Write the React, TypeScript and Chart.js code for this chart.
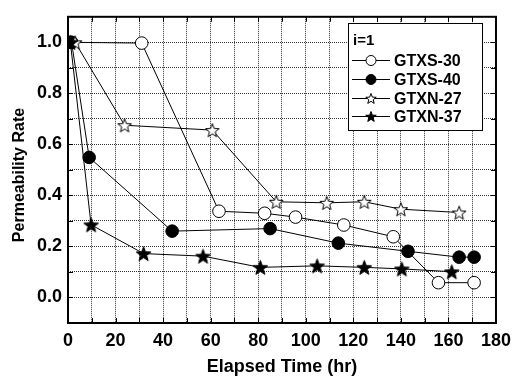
import React, { useEffect, useRef } from "react";
import { Chart, registerables } from "chart.js";

Chart.register(...registerables);

const seriesNames = ["GTXS-30", "GTXS-40", "GTXN-27", "GTXN-37"];
const legendTitle = "i=1";

const gtxs30X = [1, 31, 63.5, 82.7, 95.7, 116, 136.8, 155.8, 170.8];
const gtxs30Y = [1.0, 0.997, 0.338, 0.33, 0.315, 0.284, 0.238, 0.058, 0.058];

const gtxs40X = [1.5, 8.9, 43.8, 85, 113.7, 143, 164.5, 170.8];
const gtxs40Y = [1.0, 0.549, 0.26, 0.27, 0.213, 0.181, 0.158, 0.158];

const gtxn27X = [3, 23.8, 60.7, 87.6, 108.8, 124.6, 140, 164.5];
const gtxn27Y = [1.0, 0.675, 0.656, 0.375, 0.371, 0.375, 0.346, 0.333];

const gtxn37X = [1, 9.7, 31.8, 56.8, 80.9, 104.8, 124.6, 140.4, 161.4];
const gtxn37Y = [1.0, 0.285, 0.172, 0.162, 0.118, 0.124, 0.118, 0.112, 0.101];

const xTitle = "Elapsed Time (hr)";
const yTitle = "Permeability Rate";

const FONT = '"Liberation Sans", Arial, sans-serif';

function starPath(ctx: CanvasRenderingContext2D, cx: number, cy: number, R: number, r: number) {
  ctx.beginPath();
  for (let i = 0; i < 10; i++) {
    const rad = i % 2 === 0 ? R : r;
    const a = -Math.PI / 2 + (i * Math.PI) / 5;
    const px = cx + rad * Math.cos(a);
    const py = cy + rad * Math.sin(a);
    if (i === 0) ctx.moveTo(px, py);
    else ctx.lineTo(px, py);
  }
  ctx.closePath();
}

function makeStar(size: number, filled: boolean): HTMLCanvasElement {
  const c = document.createElement("canvas");
  c.width = size;
  c.height = size;
  const ctx = c.getContext("2d")!;
  const R = size / 2 - 0.8;
  starPath(ctx, size / 2, size / 2 + 0.8, R, R * 0.42);
  ctx.fillStyle = filled ? "#000" : "#fff";
  ctx.fill();
  ctx.lineWidth = 1;
  ctx.strokeStyle = "#000";
  ctx.stroke();
  return c;
}

function toPts(xs: number[], ys: number[]) {
  return xs.map((x, i) => ({ x, y: ys[i] }));
}

export default function App() {
  const ref = useRef<HTMLCanvasElement>(null);

  useEffect(() => {
    const canvas = ref.current!;
    const openStar = makeStar(16, false);
    const fullStar = makeStar(17, true);

    const framePlugin = {
      id: "frameAndLegend",
      afterDraw(chart: any) {
        const ctx: CanvasRenderingContext2D = chart.ctx;
        const { left, right, top, bottom } = chart.chartArea;
        const xs = chart.scales.x;
        const ys = chart.scales.y;
        ctx.save();
        // inward ticks
        ctx.strokeStyle = "#000";
        ctx.lineWidth = 1;
        ctx.beginPath();
        for (let v = 10; v < 180; v += 10) {
          const px = Math.round(xs.getPixelForValue(v)) + 0.5;
          ctx.moveTo(px, bottom);
          ctx.lineTo(px, bottom - 5);
          ctx.moveTo(px, top);
          ctx.lineTo(px, top + 5);
        }
        for (let k = 0; k <= 10; k++) {
          const v = k / 10;
          const py = Math.round(ys.getPixelForValue(v)) + 0.5;
          ctx.moveTo(left, py);
          ctx.lineTo(left + 5, py);
          ctx.moveTo(right, py);
          ctx.lineTo(right - 5, py);
        }
        ctx.stroke();
        // frame
        ctx.lineWidth = 2;
        ctx.strokeRect(left, top, right - left, bottom - top);

        // y title
        ctx.save();
        ctx.translate(20, 175);
        ctx.rotate(-Math.PI / 2);
        ctx.fillStyle = "#000";
        ctx.font = `bold 16px ${FONT}`;
        ctx.textAlign = "center";
        ctx.textBaseline = "middle";
        ctx.fillText(yTitle, 0, 0);
        ctx.restore();

        // legend
        const lx = 348, ly = 23, lw = 134, lh = 107;
        ctx.fillStyle = "#fff";
        ctx.fillRect(lx, ly, lw, lh);
        ctx.lineWidth = 1;
        ctx.strokeStyle = "#000";
        ctx.strokeRect(lx + 0.5, ly + 0.5, lw, lh);
        ctx.fillStyle = "#000";
        ctx.textBaseline = "alphabetic";
        ctx.textAlign = "left";
        ctx.font = `bold 15px ${FONT}`;
        ctx.fillText(legendTitle, lx + 5, 45);
        ctx.font = `bold 16px ${FONT}`;
        const rows = [60, 78.5, 97.5, 116];
        rows.forEach((ry, i) => {
          ctx.strokeStyle = "#000";
          ctx.lineWidth = 1;
          ctx.beginPath();
          ctx.moveTo(352, Math.round(ry) + 0.5);
          ctx.lineTo(390, Math.round(ry) + 0.5);
          ctx.stroke();
          const cx = 371, cy = Math.round(ry) + 0.5;
          if (i < 2) {
            ctx.beginPath();
            ctx.arc(cx, cy, 5, 0, Math.PI * 2);
            ctx.fillStyle = i === 0 ? "#fff" : "#000";
            ctx.fill();
            ctx.stroke();
          } else {
            starPath(ctx, cx, cy + 0.5, 5.5, 2.3);
            ctx.fillStyle = i === 2 ? "#fff" : "#000";
            ctx.fill();
            ctx.stroke();
          }
          ctx.fillStyle = "#000";
          ctx.fillText(seriesNames[i], 394, ry + 6);
        });
        ctx.restore();
      },
    };

    const common = {
      showLine: true,
      borderColor: "#000",
      borderWidth: 1,
      pointBorderColor: "#000",
      pointBorderWidth: 1,
      fill: false,
    };

    const chart = new Chart(canvas, {
      type: "scatter",
      data: {
        datasets: [
          {
            ...common,
            label: seriesNames[0],
            data: toPts(gtxs30X, gtxs30Y),
            pointStyle: "circle",
            pointRadius: 6.3,
            pointBackgroundColor: "#fff",
            order: 4,
          },
          {
            ...common,
            label: seriesNames[1],
            data: toPts(gtxs40X, gtxs40Y),
            pointStyle: "circle",
            pointRadius: 6.3,
            pointBackgroundColor: "#000",
            order: 3,
          },
          {
            ...common,
            label: seriesNames[2],
            data: toPts(gtxn27X, gtxn27Y),
            pointStyle: openStar as any,
            pointRadius: 8,
            order: 2,
          },
          {
            ...common,
            label: seriesNames[3],
            data: toPts(gtxn37X, gtxn37Y),
            pointStyle: fullStar as any,
            pointRadius: 8,
            order: 1,
          },
        ],
      },
      options: {
        animation: false,
        responsive: false,
        devicePixelRatio: 1,
        layout: { padding: { top: 7, right: 21, left: 0, bottom: 0 } },
        plugins: {
          legend: { display: false },
          tooltip: { enabled: false },
        },
        scales: {
          x: {
            type: "linear",
            min: 0,
            max: 180,
            afterFit: (s: any) => {
              s.height = 55;
            },
            ticks: {
              stepSize: 10,
              autoSkip: false,
              maxRotation: 0,
              padding: 7,
              color: "#000",
              font: { family: FONT, size: 18, weight: "bold" },
              callback: (v: any) => (Math.round(v) % 20 === 0 ? String(Math.round(v)) : ""),
            },
            grid: {
              color: "#333",
              lineWidth: 1,
              drawTicks: false,
            },
            border: { display: false, dash: [1, 1] },
            title: {
              display: true,
              text: xTitle,
              color: "#000",
              font: { family: FONT, size: 18, weight: "bold" },
              padding: { top: 0, bottom: 0 },
            },
          },
          y: {
            type: "linear",
            min: -0.1,
            max: 1.1,
            afterFit: (s: any) => {
              s.width = 68;
            },
            ticks: {
              stepSize: 0.1,
              autoSkip: false,
              padding: 6,
              color: "#000",
              font: { family: FONT, size: 18, weight: "bold" },
              callback: (v: any) => {
                const k = Math.round(Number(v) * 10);
                return k % 2 === 0 && k >= 0 && k <= 10 ? (k / 10).toFixed(1) : "";
              },
            },
            grid: {
              color: "#333",
              lineWidth: 1,
              drawTicks: false,
            },
            border: { display: false, dash: [1, 1] },
            title: { display: false },
          },
        },
      },
      plugins: [framePlugin],
    } as any);

    return () => chart.destroy();
  }, []);

  return (
    <div style={{ position: "fixed", left: 0, top: 0, width: 518, height: 378, background: "#fff" }}>
      <canvas ref={ref} width={518} height={378} style={{ width: 518, height: 378 }} />
    </div>
  );
}
